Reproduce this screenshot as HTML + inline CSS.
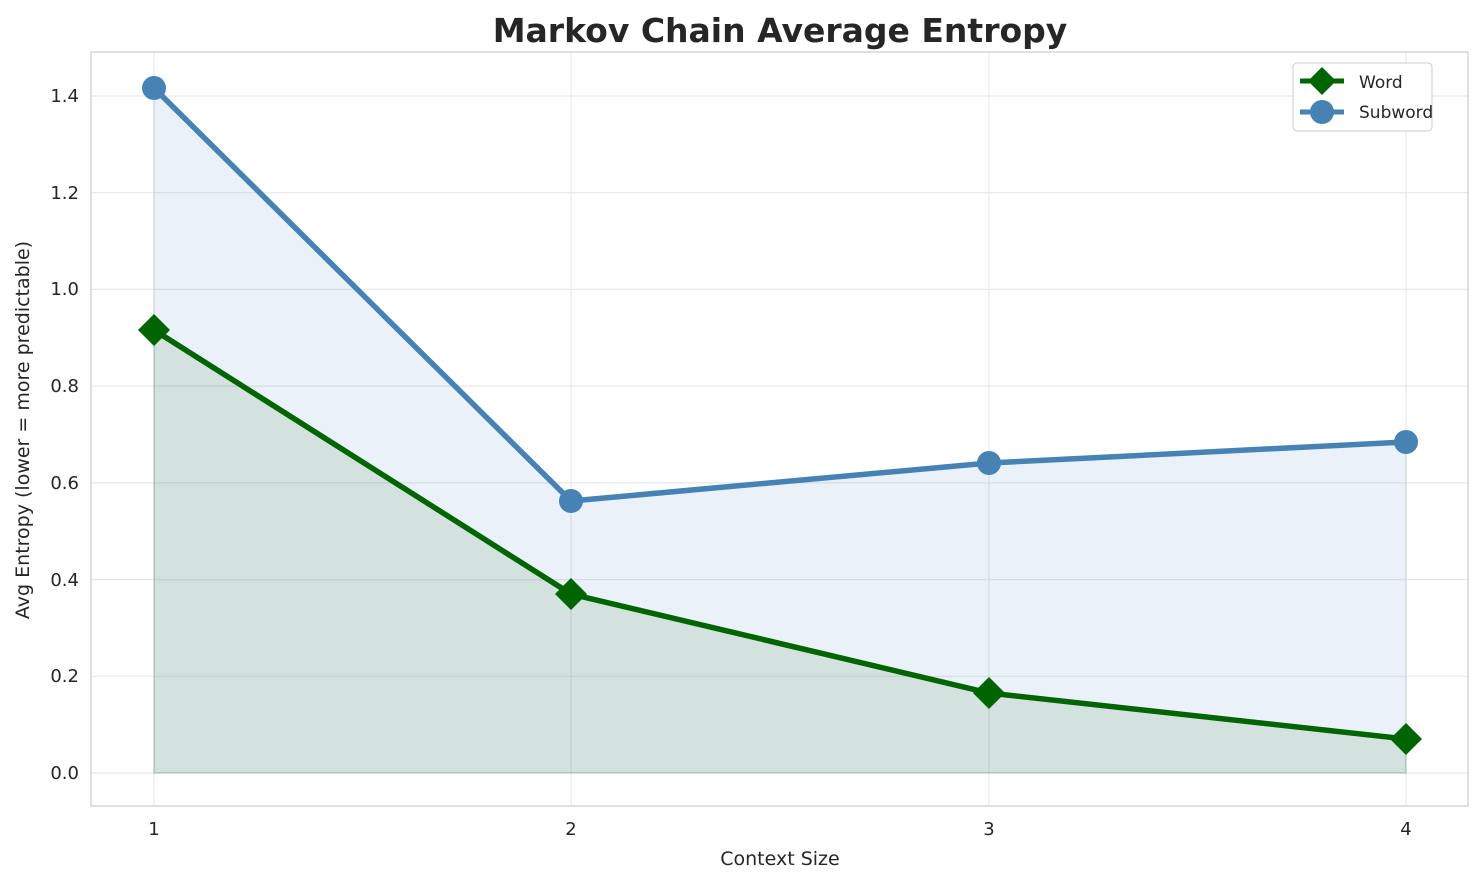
<!DOCTYPE html>
<html><head><style>body{margin:0;background:#fff}svg{display:block;font-family:"DejaVu Sans","Liberation Sans",sans-serif}</style></head><body>
<svg width="1484" height="885" viewBox="0 0 1484 885" xmlns="http://www.w3.org/2000/svg">
<rect width="1484" height="885" fill="#fff"/>
<g stroke="#e8e8e8" stroke-width="1.2">
<line x1="91" x2="1468" y1="773" y2="773"/><line x1="91" x2="1468" y1="676.3" y2="676.3"/><line x1="91" x2="1468" y1="579.6" y2="579.6"/><line x1="91" x2="1468" y1="482.9" y2="482.9"/><line x1="91" x2="1468" y1="386.1" y2="386.1"/><line x1="91" x2="1468" y1="289.4" y2="289.4"/><line x1="91" x2="1468" y1="192.7" y2="192.7"/><line x1="91" x2="1468" y1="96" y2="96"/>
<line x1="154" x2="154" y1="52" y2="806"/><line x1="571" x2="571" y1="52" y2="806"/><line x1="989" x2="989" y1="52" y2="806"/><line x1="1406" x2="1406" y1="52" y2="806"/>
</g>
<polygon points="154,88 571,501 989,463 1406,442 1406,773 154,773" fill="#4a7cc4" fill-opacity="0.11" stroke="#4682b4" stroke-opacity="0.2"/>
<polygon points="154,330 571,594 989,693 1406,739 1406,773 154,773" fill="#006400" fill-opacity="0.1" stroke="#006400" stroke-opacity="0.15"/>
<rect x="91" y="52" width="1377" height="754" fill="none" stroke="#ccc" stroke-width="1.2"/>
<polyline points="154,88 571,501 989,463 1406,442" fill="none" stroke="#4682b4" stroke-width="5.5"/>
<g fill="#4682b4"><circle cx="154" cy="88" r="12"/><circle cx="571" cy="501" r="12"/><circle cx="989" cy="463" r="12"/><circle cx="1406" cy="442" r="12"/></g>
<polyline points="154,330 571,594 989,693 1406,739" fill="none" stroke="#006400" stroke-width="5.5"/>
<g fill="#006400"><path d="M154,314 L170,330 L154,346 L138,330Z"/><path d="M571,578 L587,594 L571,610 L555,594Z"/><path d="M989,677 L1005,693 L989,709 L973,693Z"/><path d="M1406,723 L1422,739 L1406,755 L1390,739Z"/></g>
<g font-size="18" fill="#262626" text-anchor="end">
<text x="79" y="779">0.0</text><text x="79" y="682">0.2</text><text x="79" y="586">0.4</text><text x="79" y="489">0.6</text><text x="79" y="392">0.8</text><text x="79" y="295">1.0</text><text x="79" y="199">1.2</text><text x="79" y="102">1.4</text>
</g>
<g font-size="18" fill="#262626" text-anchor="middle">
<text x="154" y="835">1</text><text x="571" y="835">2</text><text x="989" y="835">3</text><text x="1406" y="835">4</text>
<text x="780" y="865" font-size="19">Context Size</text>
<text x="780" y="42" font-size="33" font-weight="bold">Markov Chain Average Entropy</text>
<text transform="translate(29,430) rotate(-90)" font-size="19">Avg Entropy (lower = more predictable)</text>
</g>
<rect x="1293" y="63" width="139" height="68" rx="4" fill="#fff" fill-opacity="0.85" stroke="#ccc"/>
<line x1="1300" x2="1344" y1="81" y2="81" stroke="#006400" stroke-width="5"/><path d="M1322,67 L1336,81 L1322,95 L1308,81Z" fill="#006400"/>
<line x1="1300" x2="1344" y1="112" y2="112" stroke="#4682b4" stroke-width="5"/><circle cx="1322" cy="112" r="12" fill="#4682b4"/>
<g font-size="17" fill="#262626"><text x="1359" y="88">Word</text><text x="1359" y="118">Subword</text></g>
</svg>
</body></html>
